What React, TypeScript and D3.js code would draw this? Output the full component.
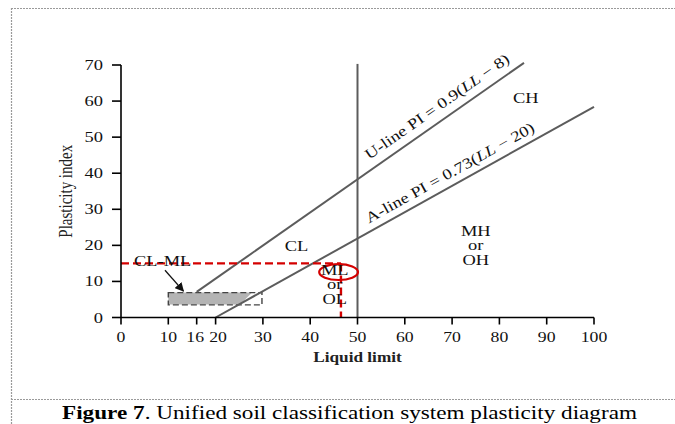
import React from "react";
import * as d3 from "d3";

const W = 675;
const H = 424;

const xTicks = [0, 10, 16, 20, 30, 40, 50, 60, 70, 80, 90, 100];
const yTicks = [0, 10, 20, 30, 40, 50, 60, 70];

// U-line PI = 0.9(LL-8), A-line PI = 0.73(LL-20) (end points)
const uLine = [
  { ll: 16, pi: 7.1 },
  { ll: 85.2, pi: 70.6 },
];
const aLine = [
  { ll: 20, pi: 0 },
  { ll: 100, pi: 58.4 },
];
const vLine = [
  { ll: 50, pi: 0 },
  { ll: 50, pi: 70.3 },
];
const redH = [
  { ll: 0, pi: 15 },
  { ll: 46.5, pi: 15 },
];
const redV = [
  { ll: 46.5, pi: 15 },
  { ll: 46.5, pi: 0 },
];
const clmlFill = [
  { ll: 10, pi: 3.6 },
  { ll: 10, pi: 6.9 },
  { ll: 27.7, pi: 6.9 },
  { ll: 25.2, pi: 3.6 },
];
const clmlBox = { ll0: 10, ll1: 29.8, pi0: 3.5, pi1: 6.9 };
const ellipse = { ll: 46, pi: 12.6, rll: 4.1, rpi: 2.2 };
const arrow = [
  { ll: 9.3, pi: 13.1 },
  { ll: 13.2, pi: 7.3 },
];

const zoneLabels = [
  { lines: ["CL-ML"], ll: 8.8, pi: 14.4 },
  { lines: ["CL"], ll: 37.1, pi: 18.4 },
  { lines: ["ML", "or", "OL"], ll: 45.2, pi: 11.8 },
  { lines: ["MH", "or", "OH"], ll: 75, pi: 22.6 },
  { lines: ["CH"], ll: 85.6, pi: 59.6 },
];

const SX = 1.23; // horizontal stretch of the reference's text
const TICK_SX = 1.18;

export default function App() {
  const x = d3.scaleLinear().domain([0, 100]).range([121, 594]);
  const y = d3.scaleLinear().domain([0, 70]).range([317.5, 65]);
  const line = d3
    .line<{ ll: number; pi: number }>()
    .x((d) => x(d.ll))
    .y((d) => y(d.pi));

  const onLine = (pts: { ll: number; pi: number }[], ll: number) => {
    const [a, b] = pts;
    const t = (ll - a.ll) / (b.ll - a.ll);
    return { px: x(ll), py: y(a.pi + t * (b.pi - a.pi)) };
  };
  const angle = (pts: { ll: number; pi: number }[]) => {
    const [a, b] = pts;
    return (Math.atan2(y(b.pi) - y(a.pi), x(b.ll) - x(a.ll)) * 180) / Math.PI;
  };
  const uP = onLine(uLine, 53.6);
  const aP = onLine(aLine, 53.2);

  // keep the crowded 16 / 20 labels apart as in the reference
  const labelNudge = (t: number) => (t === 16 ? -1.5 : t === 20 ? 2.5 : 0);

  const serif = "'Liberation Serif', 'Times New Roman', serif";

  return (
    <div style={{ position: "absolute", left: 0, top: 0 }}>
      <svg width={W} height={H} style={{ display: "block", background: "#fff" }} fontFamily={serif}>
        <defs>
          <marker id="ah" viewBox="0 0 10 10" refX="9" refY="5" markerWidth="7" markerHeight="7" orient="auto">
            <path d="M0,0 L10,5 L0,10 z" fill="#111" />
          </marker>
        </defs>
        {/* frame */}
        <g stroke="#9a9a9a" strokeWidth={1.2} strokeDasharray="2,1" fill="none">
          <line x1={11} y1={8.5} x2={W} y2={8.5} />
          <line x1={11.5} y1={8} x2={11.5} y2={H} />
          <line x1={11} y1={399.5} x2={W} y2={399.5} />
        </g>

        {/* CL-ML zone */}
        <path d={line(clmlFill) + "Z"} fill="#b4b4b4" stroke="none" />
        <rect
          x={x(clmlBox.ll0)}
          y={y(clmlBox.pi1)}
          width={x(clmlBox.ll1) - x(clmlBox.ll0)}
          height={y(clmlBox.pi0) - y(clmlBox.pi1)}
          fill="none"
          stroke="#444"
          strokeWidth={1.4}
          strokeDasharray="6,3"
        />

        {/* classification lines */}
        <g stroke="#5c5c5c" strokeWidth={2} fill="none">
          <path d={line(uLine)!} />
          <path d={line(aLine)!} />
          <path d={line(vLine)!} />
        </g>

        {/* red markers */}
        <g stroke="#d40000" strokeWidth={2.4} fill="none" strokeDasharray="8,4">
          <path d={line(redH)!} />
          <path d={line(redV)!} />
        </g>
        <ellipse
          cx={x(ellipse.ll)}
          cy={y(ellipse.pi)}
          rx={x(ellipse.rll) - x(0)}
          ry={y(0) - y(ellipse.rpi)}
          fill="none"
          stroke="#d40000"
          strokeWidth={2.2}
        />

        {/* arrow */}
        <path d={line(arrow)!} stroke="#111" strokeWidth={1.3} fill="none" markerEnd="url(#ah)" />

        {/* axes */}
        <g stroke="#000" strokeWidth={1.6}>
          <line x1={x(0)} y1={y(0)} x2={x(0)} y2={y(70)} />
          <line x1={x(0)} y1={y(0)} x2={x(100)} y2={y(0)} />
          {yTicks.map((t) => (
            <line key={"yt" + t} x1={x(0) - 9} x2={x(0)} y1={y(t)} y2={y(t)} />
          ))}
          {xTicks.map((t) => (
            <line key={"xt" + t} x1={x(t)} x2={x(t)} y1={y(0)} y2={y(0) + 7} />
          ))}
        </g>
        <g fontSize={15} fill="#111">
          {yTicks.map((t) => (
            <text
              key={"yl" + t}
              transform={`translate(${x(0) - 18},${y(t) + 5}) scale(${SX},1)`}
              textAnchor="end"
            >
              {t}
            </text>
          ))}
          {xTicks.map((t) => (
            <text
              key={"xl" + t}
              transform={`translate(${x(t) + labelNudge(t)},${y(0) + 24.5}) scale(${TICK_SX},1)`}
              textAnchor="middle"
            >
              {t}
            </text>
          ))}
        </g>
        <text
          transform={`translate(${x(50)},362) scale(${SX},1)`}
          textAnchor="middle"
          fontSize={14}
          fontWeight="bold"
          fill="#222"
        >
          Liquid limit
        </text>
        <text
          transform={`translate(72,${y(35)}) rotate(-90) scale(1,${SX})`}
          textAnchor="middle"
          fontSize={15}
          fill="#222"
        >
          Plasticity index
        </text>

        {/* zone labels */}
        <g fontSize={15} fill="#111" textAnchor="middle">
          {zoneLabels.map((z, i) => (
            <text key={"z" + i} transform={`translate(${x(z.ll)},${y(z.pi)}) scale(${SX},1)`}>
              {z.lines.map((s, j) => (
                <tspan key={j} x={0} dy={j === 0 ? 0 : 14.5}>
                  {s}
                </tspan>
              ))}
            </text>
          ))}
        </g>

        {/* line labels */}
        <text
          transform={`translate(${uP.px},${uP.py}) rotate(${angle(uLine)}) scale(${SX},1)`}
          dy={-9}
          fontSize={15}
          fill="#111"
        >
          U-line PI = 0.9(<tspan fontStyle="italic">LL</tspan> − 8)
        </text>
        <text
          transform={`translate(${aP.px},${aP.py}) rotate(${angle(aLine)}) scale(${SX},1)`}
          dy={-7.5}
          fontSize={15}
          fill="#111"
        >
          A-line PI = 0.73(<tspan fontStyle="italic">LL</tspan> − 20)
        </text>

        {/* caption */}
        <text
          transform={`translate(349.5,419) scale(1.22,1)`}
          textAnchor="middle"
          fontSize={19}
          fill="#000"
        >
          <tspan fontWeight="bold">Figure 7</tspan>. Unified soil classification system plasticity diagram
        </text>
      </svg>
    </div>
  );
}
